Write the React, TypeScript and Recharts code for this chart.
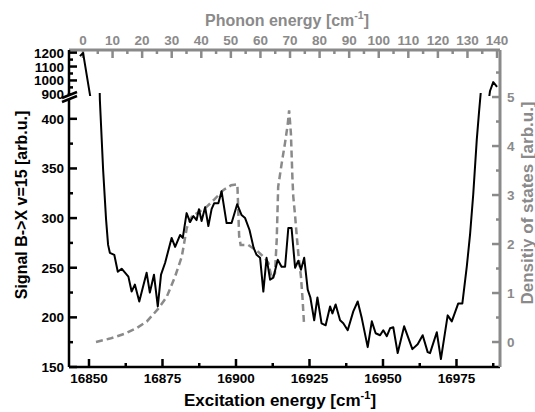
import { ComposedChart, Line, XAxis, YAxis } from "recharts";

const W = 535;
const H = 412;
// plot frame
const PL = 69;
const PR = 500;
const PT = 50;
const PB = 367;
// broken signal axis: lower panel top / upper panel bottom
const LOW_TOP = 93;
const UP_BOTTOM = 96;

const FONT = "'Liberation Sans', Arial, Helvetica, sans-serif";
const GRAY = "#8a8a8a";

// signal B->X v=15 vs excitation energy [cm-1]
const sigEnergy = [
  16846.9, 16848.0, 16850.3, 16853.7, 16854.8, 16855.8, 16856.5, 16857.1, 16858.6, 16859.8,
  16861.1, 16863.4, 16864.5, 16865.6, 16867.1, 16869.6, 16870.7, 16872.1, 16873.4, 16874.5,
  16875.9, 16878.1, 16879.3, 16881.0, 16881.9, 16883.2, 16884.4, 16885.5, 16886.6, 16887.4,
  16888.3, 16889.5, 16890.6, 16891.7, 16892.6, 16894.0, 16895.1, 16896.8, 16898.5, 16900.4,
  16901.9, 16903.1, 16904.6, 16906.0, 16907.0, 16908.2, 16909.3, 16910.4, 16911.6, 16912.7,
  16914.2, 16915.5, 16916.7, 16917.8, 16918.9, 16920.1, 16921.2, 16922.1, 16923.2, 16924.4,
  16925.3, 16926.6, 16927.7, 16929.1, 16930.5, 16932.0, 16932.8, 16933.9, 16935.4, 16936.5,
  16938.0, 16939.9, 16941.4, 16942.8, 16944.8, 16946.2, 16947.5, 16949.0, 16950.1, 16951.3,
  16952.4, 16953.5, 16955.0, 16957.2, 16960.0, 16961.8, 16963.5, 16965.2, 16966.0, 16968.3,
  16969.7, 16972.0, 16973.4, 16975.6, 16977.0, 16978.5, 16979.6, 16980.7, 16981.9, 16982.7,
  16983.3, 16986.4, 16987.5, 16988.8,
];
const sigValue = [
  1175, 1197, 902, 419, 349, 299, 273, 265, 263, 246,
  249, 241, 226, 233, 216, 245, 225, 243, 211, 243,
  255, 280, 271, 283, 280, 305, 296, 302, 298, 309,
  297, 311, 292, 309, 315, 315, 327, 295, 295, 314,
  303, 300, 288, 270, 263, 260, 226, 260, 238, 240,
  258, 251, 251, 290, 290, 250, 257, 248, 260, 228,
  220, 197, 220, 194, 192, 211, 204, 213, 197, 194,
  187, 206, 216, 199, 170, 196, 184, 182, 187, 181,
  189, 190, 164, 191, 168, 173, 182, 165, 164, 185,
  158, 202, 196, 214, 214, 251, 283, 324, 379, 408,
  428, 924, 988, 953,
];

// density of states vs phonon energy [cm-1]
const dosPhonon = [
  4.4, 9.1, 14.2, 18.3, 21.6, 25.3, 28.3, 31.1, 33.4, 35.1,
  36.8, 41.8, 44.6, 47.4, 50.1, 52.2, 52.8, 53.3, 55.9, 59.3,
  61.5, 62.7, 63.8, 64.9, 65.5, 66.0, 67.2, 68.3, 69.2, 69.7,
  70.3, 70.8, 71.1, 71.7, 72.3, 72.8, 73.7, 74.2, 74.7,
];
const dosValue = [
  0.0, 0.07, 0.17, 0.29, 0.42, 0.67, 0.92, 1.33, 1.74, 2.33,
  2.56, 2.76, 2.92, 3.1, 3.2, 3.22, 2.16, 1.98, 1.98, 1.84,
  1.71, 1.61, 1.3, 1.4, 2.08, 3.17, 3.65, 4.06, 4.43, 4.73,
  4.26, 3.37, 2.97, 2.59, 2.15, 1.81, 1.33, 0.92, 0.41,
];

const excTicks = [16850, 16862.5, 16875, 16887.5, 16900, 16912.5, 16925, 16937.5, 16950, 16962.5, 16975, 16987.5];
const phonTicks = [0, 5, 10, 15, 20, 25, 30, 35, 40, 45, 50, 55, 60, 65, 70, 75, 80, 85, 90, 95, 100, 105, 110, 115, 120, 125, 130, 135, 140];
const lowTicks = [150, 175, 200, 225, 250, 275, 300, 325, 350, 375, 400];
const upTicks = [900, 950, 1000, 1050, 1100, 1150, 1200];
const dosTicks = [0, 0.5, 1, 1.5, 2, 2.5, 3, 3.5, 4, 4.5, 5, 5.5];

const excDomain = [16843.2, 16989.8];
const phonDomain = [-4.73, 141];
const lowDomain = [150, 426];
const upDomain = [888, 1219];
const dosDomain = [-0.51, 5.96];

const sigData = sigEnergy.map((e, i) => ({ e, s: sigValue[i] }));
const dosData = dosPhonon.map((p, i) => ({ p, d: dosValue[i] }));

type Side = "top" | "bottom" | "left" | "right";

// inward tick marks, labels only on major values
function makeTick(side: Side, color: string, isMajor: (v: number) => boolean) {
  return function AxisTick(props: any) {
    const { x, y, payload } = props;
    const v = payload.value as number;
    const major = isMajor(v);
    const len = major ? 8 : 4;
    const txt = { fill: color, fontFamily: FONT, fontSize: 13.5, fontWeight: 700 };
    let mark;
    let label = null;
    if (side === "bottom") {
      mark = <line x1={x} y1={y} x2={x} y2={y - len} />;
      if (major) label = <text x={x} y={y + 16} textAnchor="middle" {...txt}>{v}</text>;
    } else if (side === "top") {
      mark = <line x1={x} y1={y} x2={x} y2={y + len} />;
      if (major) label = <text x={x} y={y - 5} textAnchor="middle" {...txt}>{v}</text>;
    } else if (side === "left") {
      mark = <line x1={x} y1={y} x2={x + len} y2={y} />;
      if (major) label = <text x={x - 5} y={y + 5} textAnchor="end" {...txt}>{v}</text>;
    } else {
      mark = <line x1={x} y1={y} x2={x - len} y2={y} />;
      if (major) label = <text x={x + 7} y={y + 5} textAnchor="start" {...txt}>{v}</text>;
    }
    return (
      <g>
        <g stroke={color} strokeWidth={2.5}>{mark}</g>
        {label}
      </g>
    );
  };
}

const excTick = makeTick("bottom", "#000", (v) => v % 25 === 0);
const phonTick = makeTick("top", GRAY, (v) => v % 10 === 0);
const lowTick = makeTick("left", "#000", (v) => v % 50 === 0);
const upTick = makeTick("left", "#000", (v) => v % 100 === 0);
const dosTick = makeTick("right", GRAY, (v) => Number.isInteger(v));

const titleFont = { fontFamily: FONT, fontWeight: 700 };

const BottomTitle = () => (
  <text x={280} y={406} textAnchor="middle" fontSize={17} fill="#000" {...titleFont}>
    Excitation energy [cm<tspan dy={-7} fontSize={11}>-1</tspan>
    <tspan dy={7}>]</tspan>
  </text>
);

const TopTitle = () => (
  <text x={287} y={26} textAnchor="middle" fontSize={16} fill={GRAY} {...titleFont}>
    Phonon energy [cm<tspan dy={-7} fontSize={10.5}>-1</tspan>
    <tspan dy={7}>]</tspan>
  </text>
);

const LeftTitle = () => (
  <text x={21} y={205} textAnchor="middle" dominantBaseline="central" fontSize={16} fill="#000"
    transform="rotate(-90 21 205)" {...titleFont}>
    Signal B-&gt;X v=15 [arb.u.]
  </text>
);

const RightTitle = () => (
  <text x={527} y={203} textAnchor="middle" dominantBaseline="central" fontSize={17} fill={GRAY}
    transform="rotate(-90 527 203)" {...titleFont}>
    Densitiy of states [arb.u.]
  </text>
);

const layer: React.CSSProperties = { position: "absolute", left: 0, top: 0 };

export default function App() {
  return (
    <div style={{ ...layer, width: W, height: H, background: "#fff" }}>
      {/* frame, phonon axis, density of states */}
      <div style={layer}>
        <ComposedChart width={W} height={H} margin={{ top: 0, right: 0, bottom: 0, left: 0 }}>
          <XAxis xAxisId="exc" orientation="bottom" type="number" dataKey="e" domain={excDomain}
            allowDataOverflow height={H - PB} ticks={excTicks} interval={0} tickSize={0} tickMargin={0}
            tickLine={false} axisLine={{ stroke: "#000", strokeWidth: 2.5 }} tick={excTick}
            label={{ content: () => <BottomTitle /> }} />
          <XAxis xAxisId="ph" orientation="top" type="number" dataKey="p" domain={phonDomain}
            allowDataOverflow height={PT} ticks={phonTicks} interval={0} tickSize={0} tickMargin={0}
            tickLine={false} axisLine={{ stroke: GRAY, strokeWidth: 3 }} tick={phonTick}
            label={{ content: () => <TopTitle /> }} />
          <YAxis yAxisId="lbl" orientation="left" width={PL} type="number" domain={[0, 1]}
            tick={false} tickLine={false} axisLine={false} label={{ content: () => <LeftTitle /> }} />
          <YAxis yAxisId="dos" orientation="right" width={W - PR} type="number" domain={dosDomain}
            allowDataOverflow ticks={dosTicks} interval={0} tickSize={0} tickMargin={0} tickLine={false}
            axisLine={{ stroke: GRAY, strokeWidth: 3 }} tick={dosTick}
            label={{ content: () => <RightTitle /> }} />
          <Line xAxisId="ph" yAxisId="dos" data={dosData} dataKey="d" type="linear" stroke={GRAY}
            strokeWidth={2.5} strokeDasharray="7 4" dot={false} activeDot={false} isAnimationActive={false} />
        </ComposedChart>
      </div>
      {/* lower signal panel 150-426 */}
      <div style={layer}>
        <ComposedChart width={W} height={H} margin={{ top: LOW_TOP, right: W - PR, bottom: H - PB, left: 0 }}>
          <XAxis xAxisId="exc" type="number" dataKey="e" domain={excDomain} allowDataOverflow hide />
          <YAxis yAxisId="sig" width={PL} type="number" domain={lowDomain} allowDataOverflow
            ticks={lowTicks} interval={0} tickSize={0} tickMargin={0} tickLine={false}
            axisLine={{ stroke: "#000", strokeWidth: 2.5 }} tick={lowTick} />
          <Line xAxisId="exc" yAxisId="sig" data={sigData} dataKey="s" type="linear" stroke="#000"
            strokeWidth={2} strokeLinejoin="round" dot={false} activeDot={false} isAnimationActive={false} />
        </ComposedChart>
      </div>
      {/* upper signal panel 888-1219 */}
      <div style={layer}>
        <ComposedChart width={W} height={H} margin={{ top: PT, right: W - PR, bottom: H - UP_BOTTOM, left: 0 }}>
          <XAxis xAxisId="exc" type="number" dataKey="e" domain={excDomain} allowDataOverflow hide />
          <YAxis yAxisId="sig" width={PL} type="number" domain={upDomain} allowDataOverflow
            ticks={upTicks} interval={0} tickSize={0} tickMargin={0} tickLine={false}
            axisLine={{ stroke: "#000", strokeWidth: 2.5 }} tick={upTick} />
          <Line xAxisId="exc" yAxisId="sig" data={sigData} dataKey="s" type="linear" stroke="#000"
            strokeWidth={2} strokeLinejoin="round" dot={false} activeDot={false} isAnimationActive={false} />
        </ComposedChart>
      </div>
      {/* axis break mark */}
      <svg width={W} height={H} style={{ ...layer, pointerEvents: "none" }}>
        <polygon points="62,98 77,92 77,96 62,102" fill="#fff" />
        <line x1={62} y1={98} x2={77} y2={92} stroke="#000" strokeWidth={2.5} />
        <line x1={62} y1={102} x2={77} y2={96} stroke="#000" strokeWidth={2.5} />
      </svg>
    </div>
  );
}
